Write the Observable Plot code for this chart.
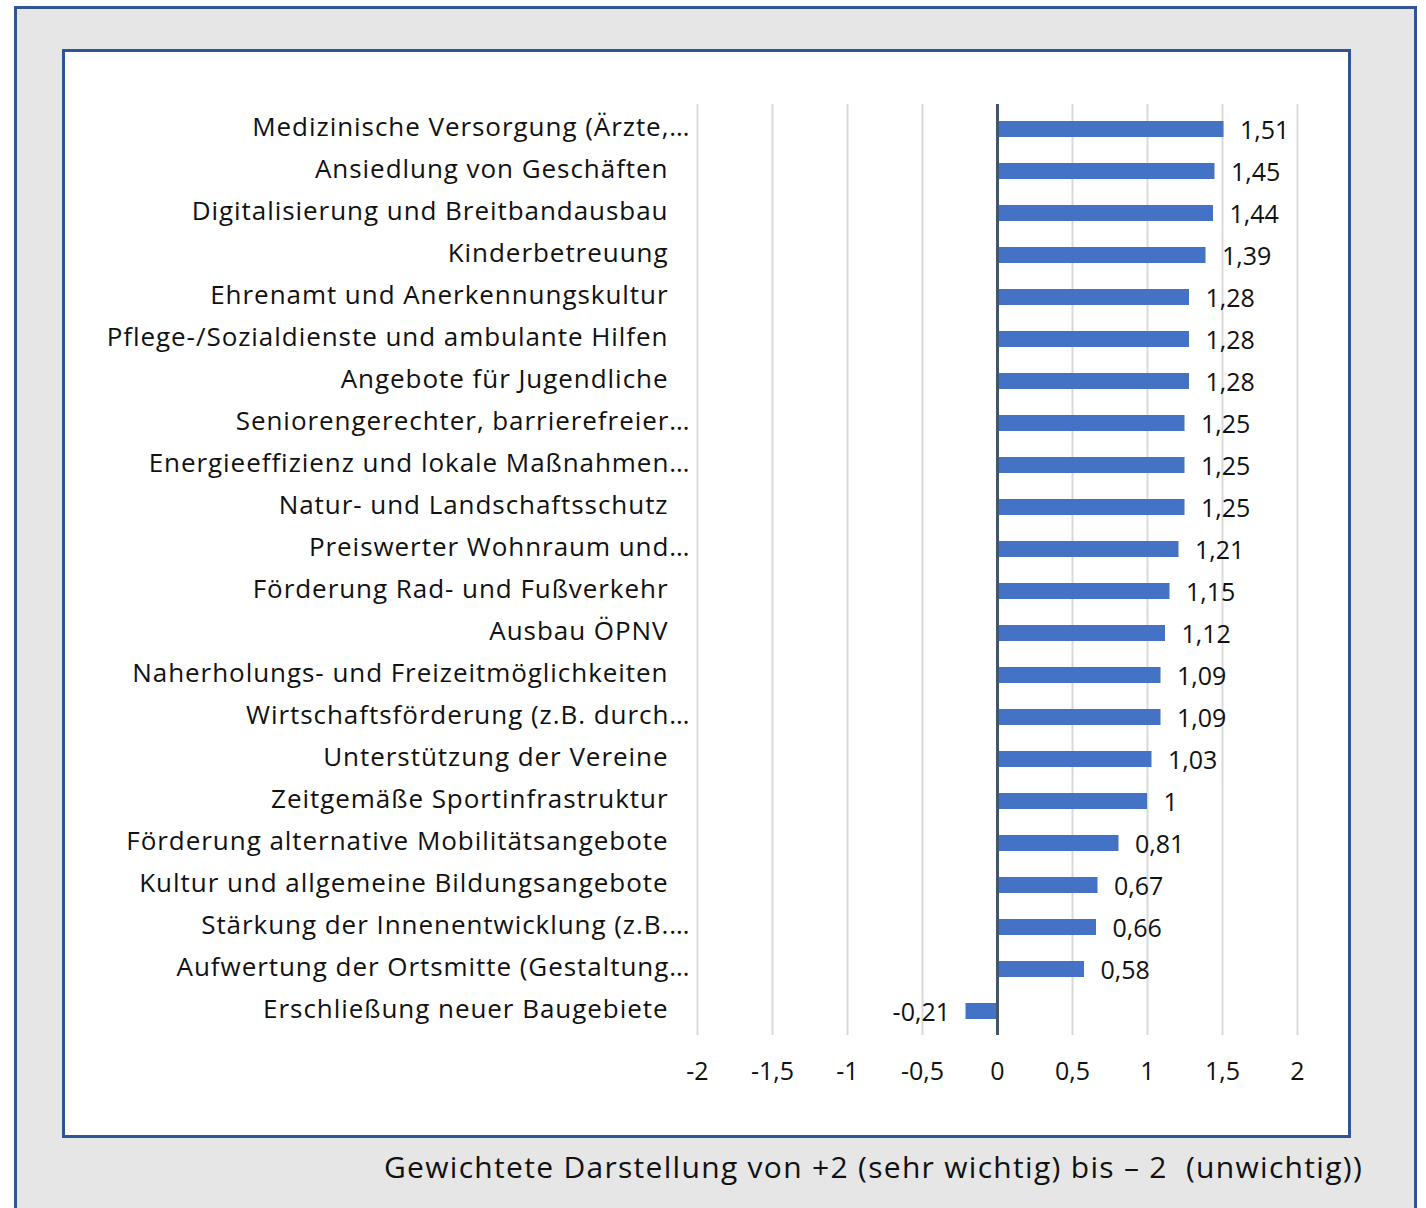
<!DOCTYPE html>
<html>
<head>
<meta charset="utf-8">
<script src="https://cdn.jsdelivr.net/npm/d3@7"></script>
<script src="https://cdn.jsdelivr.net/npm/@observablehq/plot@0.6"></script>
<style>
  html, body { margin: 0; padding: 0; background: #ffffff; width: 1426px; height: 1208px; overflow: hidden; font-family: "Open Sans", sans-serif; }
  #outer { position: absolute; left: 14px; top: 6px; width: 1403px; height: 1210px; background: #e6e6e6; border: 3px solid #2f5597; box-sizing: border-box; }
  #panel { position: absolute; left: 62px; top: 49px; width: 1289px; height: 1089px; background: #ffffff; border: 3px solid #2f5597; box-sizing: border-box; }
  #chart { position: absolute; left: 65px; top: 52px; }
  #caption { position: absolute; left: 384px; top: 1146px; font-size: 30px; color: #111; white-space: nowrap; letter-spacing: 1.3px; }
</style>
</head>
<body>
<div id="outer"></div>
<div id="panel"></div>
<div id="chart"></div>
<div id="caption">Gewichtete Darstellung von +2 (sehr wichtig) bis – 2&nbsp; (unwichtig))</div>
<script>
const categories = [
  "Medizinische Versorgung (Ärzte,…",
  "Ansiedlung von Geschäften",
  "Digitalisierung und Breitbandausbau",
  "Kinderbetreuung",
  "Ehrenamt und Anerkennungskultur",
  "Pflege-/Sozialdienste und ambulante Hilfen",
  "Angebote für Jugendliche",
  "Seniorengerechter, barrierefreier…",
  "Energieeffizienz und lokale Maßnahmen…",
  "Natur- und Landschaftsschutz",
  "Preiswerter Wohnraum und…",
  "Förderung Rad- und Fußverkehr",
  "Ausbau ÖPNV",
  "Naherholungs- und Freizeitmöglichkeiten",
  "Wirtschaftsförderung (z.B. durch…",
  "Unterstützung der Vereine",
  "Zeitgemäße Sportinfrastruktur",
  "Förderung alternative Mobilitätsangebote",
  "Kultur und allgemeine Bildungsangebote",
  "Stärkung der Innenentwicklung (z.B.…",
  "Aufwertung der Ortsmitte (Gestaltung…",
  "Erschließung neuer Baugebiete"
];
const values = [1.51, 1.45, 1.44, 1.39, 1.28, 1.28, 1.28, 1.25, 1.25, 1.25, 1.21, 1.15, 1.12, 1.09, 1.09, 1.03, 1, 0.81, 0.67, 0.66, 0.58, -0.21];
const xTicks = [-2, -1.5, -1, -0.5, 0, 0.5, 1, 1.5, 2];

const data = categories.map((c, i) => ({category: c, value: values[i]}));
const fmt = v => String(v).replace(".", ",");
const truncated = c => c.endsWith("…");

const chart = Plot.plot({
  width: 1282,
  height: 1082,
  marginLeft: 632,
  marginRight: 50,
  marginTop: 52,
  marginBottom: 99,
  style: {background: "transparent", fontFamily: "Open Sans, sans-serif"},
  x: {domain: [-2, 2], ticks: xTicks, label: null},
  y: {domain: categories, padding: 0.62, paddingOuter: 0.31, axis: null},
  marks: [
    Plot.gridX(xTicks, {stroke: "#d9d9d9", strokeOpacity: 1, strokeWidth: 2}),
    Plot.barX(data, {x: "value", y: "category", fill: "#4472c4"}),
    Plot.ruleX([0], {stroke: "#44546a", strokeWidth: 3}),
    Plot.text(data.filter(d => d.value >= 0), {x: "value", y: "category", text: d => fmt(d.value),
      textAnchor: "start", dx: 16, dy: 1, fontSize: 25, fill: "#111"}),
    Plot.text(data.filter(d => d.value < 0), {x: "value", y: "category", text: d => fmt(d.value),
      textAnchor: "end", dx: -16, dy: 1, fontSize: 25, fill: "#111"}),
    Plot.text(data.filter(d => truncated(d.category)), {frameAnchor: "left", y: "category", text: "category",
      textAnchor: "end", dx: -7, dy: -2, fontSize: 26, fill: "#111"}),
    Plot.text(data.filter(d => !truncated(d.category)), {frameAnchor: "left", y: "category", text: "category",
      textAnchor: "end", dx: -29, dy: -2, fontSize: 26, fill: "#111"}),
    Plot.axisX(xTicks, {tickSize: 0, tickPadding: 27, tickFormat: fmt, fontSize: 25, fill: "#111", label: null})
  ]
});
const catSet = new Set(categories);
d3.select(chart).selectAll("text")
  .filter(function() { return catSet.has(this.textContent); })
  .style("letter-spacing", "0.95px");
document.getElementById("chart").appendChild(chart);
</script>
</body>
</html>
